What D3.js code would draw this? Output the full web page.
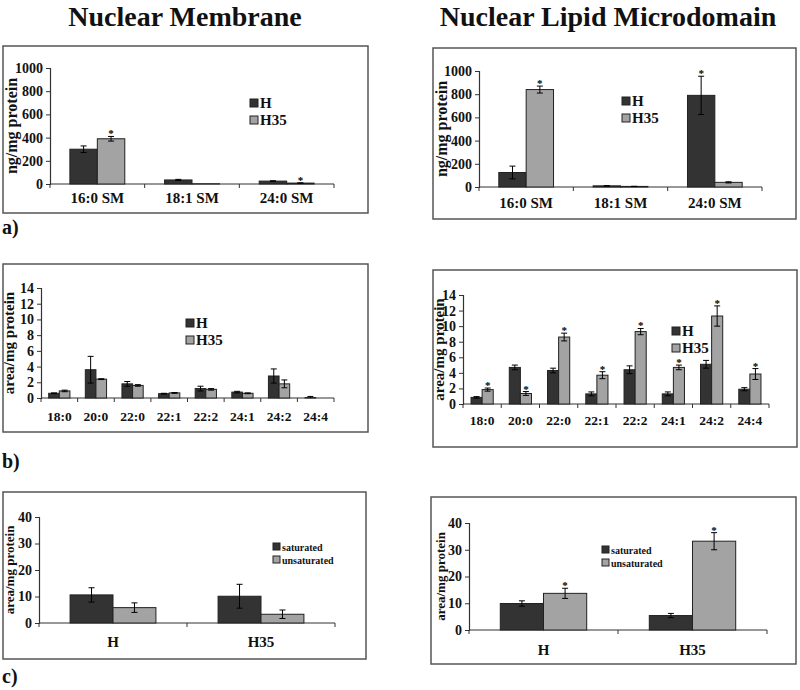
<!DOCTYPE html>
<html><head><meta charset="utf-8">
<script src="https://cdn.jsdelivr.net/npm/d3@7"></script>
<style>body{margin:0;background:#fff}svg{display:block}text{font-family:"Liberation Serif","Times New Roman",serif;font-weight:bold;fill:#111}</style>
</head><body>
<svg id="c" width="800" height="690"></svg>
<script>
// ---- data ----
const smCategories = ["16:0 SM", "18:1 SM", "24:0 SM"];
const faCategories = ["18:0", "20:0", "22:0", "22:1", "22:2", "24:1", "24:2", "24:4"];
const groupCategories = ["H", "H35"];

const seriesHH35 = ["H", "H35"];
const seriesSat = ["saturated", "unsaturated"];

// a) Nuclear membrane SM (ng/mg protein)
const aMemH = [300, 35, 25];
const aMemHErr = [28, 5, 3];
const aMemH35 = [390, 2, 8];
const aMemH35Err = [20, 0, 2];
const aMemStarsH = [false, false, false];
const aMemStarsH35 = [true, false, true];

// a) Nuclear lipid microdomain SM
const aMdH = [125, 10, 790];
const aMdHErr = [55, 2, 165];
const aMdH35 = [840, 5, 40];
const aMdH35Err = [30, 1, 5];
const aMdStarsH = [false, false, true];
const aMdStarsH35 = [true, false, false];

// b) Nuclear membrane fatty acids (area/mg protein)
const bMemH = [0.6, 3.6, 1.8, 0.55, 1.2, 0.75, 2.8, 0.05];
const bMemHErr = [0.05, 1.7, 0.3, 0.05, 0.3, 0.1, 0.9, 0.15];
const bMemH35 = [0.9, 2.4, 1.6, 0.65, 1.1, 0.6, 1.8, 0];
const bMemH35Err = [0.1, 0.05, 0.1, 0.05, 0.1, 0.05, 0.5, 0];

// b) Nuclear lipid microdomain fatty acids
const bMdH = [0.85, 4.7, 4.3, 1.3, 4.4, 1.3, 5.1, 1.9];
const bMdHErr = [0.1, 0.3, 0.3, 0.25, 0.5, 0.25, 0.5, 0.2];
const bMdH35 = [1.85, 1.35, 8.6, 3.7, 9.3, 4.7, 11.3, 3.85];
const bMdH35Err = [0.2, 0.25, 0.5, 0.45, 0.4, 0.3, 1.3, 0.7];
const bMdStarsH35 = [true, true, true, true, true, true, true, true];

// c) saturated / unsaturated
const cMemSat = [10.6, 10.1];
const cMemSatErr = [2.7, 4.5];
const cMemUnsat = [5.8, 3.3];
const cMemUnsatErr = [1.8, 1.6];

const cMdSat = [9.9, 5.4];
const cMdSatErr = [1.0, 0.8];
const cMdUnsat = [13.7, 33.2];
const cMdUnsatErr = [1.9, 3.2];
const cMdStarsUnsat = [true, true];

const yTicksA = [0, 200, 400, 600, 800, 1000];
const yTicksB = [0, 2, 4, 6, 8, 10, 12, 14];
const yTicksC = [0, 10, 20, 30, 40];

// ---- drawing ----
const svg = d3.select("#c");
const DARK = "#333333", LIGHT = "#a3a3a3";
const none = n => new Array(n).fill(false);

svg.append("text").attr("x", 185).attr("y", 26).attr("text-anchor", "middle")
  .style("font-size", "28px").text("Nuclear Membrane");
svg.append("text").attr("x", 608).attr("y", 26).attr("text-anchor", "middle")
  .style("font-size", "28px").text("Nuclear Lipid Microdomain");

[["a)", 234], ["b)", 468], ["c)", 683]].forEach(([t, y]) => {
  svg.append("text").attr("x", 2).attr("y", y).style("font-size", "20px").text(t);
});

function panel(p) {
  const g = svg.append("g");
  g.append("rect").attr("x", p.box[0]).attr("y", p.box[1])
    .attr("width", p.box[2] - p.box[0]).attr("height", p.box[3] - p.box[1])
    .attr("fill", "none").attr("stroke", "#555").attr("stroke-width", 1.5);

  const x = d3.scaleBand().domain(p.cats).range([p.x0, p.x1]);
  const xs = d3.scaleBand().domain(p.series)
    .range([x.bandwidth() * 0.21, x.bandwidth() * 0.79]);
  const y = d3.scaleLinear().domain([0, p.ymax]).range([p.y0, p.yTop]);

  // y axis
  const ya = g.append("g").attr("transform", `translate(${p.x0},0)`)
    .call(d3.axisLeft(y).tickValues(p.yTicks).tickFormat(d3.format("d")).tickSize(4).tickPadding(3));
  ya.select(".domain").attr("stroke", "#333").attr("stroke-width", 1.2);
  ya.selectAll(".tick line").attr("stroke", "#333");
  ya.selectAll("text").style("font-size", p.yFont + "px").attr("fill", "#111")
    .style("font-family", '"Liberation Serif",serif').style("font-weight", "bold");

  // x axis (ticks between categories)
  const xa = g.append("g").attr("transform", `translate(0,${p.y0})`);
  xa.append("line").attr("x1", p.x0).attr("x2", p.x1).attr("y1", 0).attr("y2", 0)
    .attr("stroke", "#333").attr("stroke-width", 1.2);
  const bounds = p.cats.map(c => x(c)).concat([x(p.cats[p.cats.length - 1]) + x.bandwidth()]);
  xa.selectAll(".tk").data(bounds).join("line").attr("x1", d => d).attr("x2", d => d)
    .attr("y1", 0).attr("y2", 4).attr("stroke", "#333");
  xa.selectAll(".lb").data(p.cats).join("text")
    .attr("x", d => x(d) + x.bandwidth() / 2).attr("y", p.xLabelY - p.y0)
    .attr("text-anchor", "middle").style("font-size", p.xFont + "px").text(d => d);

  // y label
  g.append("text").attr("transform", `translate(${p.ylx},${(p.y0 + p.yTop) / 2}) rotate(-90)`)
    .attr("text-anchor", "middle").style("font-size", p.ylFont + "px").text(p.ylabel);

  // bars
  p.series.forEach((s, si) => {
    const vals = p.values[si], errs = p.errors[si], stars = p.stars[si];
    const col = si === 0 ? DARK : LIGHT;
    const data = p.cats.map((c, i) => ({ c, v: vals[i], e: errs[i], st: stars[i] }));
    const bx = d => x(d.c) + xs(s);
    g.selectAll(null).data(data).join("rect")
      .attr("x", bx).attr("width", xs.bandwidth())
      .attr("y", d => y(d.v)).attr("height", d => p.y0 - y(d.v))
      .attr("fill", col).attr("stroke", "#222").attr("stroke-width", 1);
    const cx = d => bx(d) + xs.bandwidth() / 2;
    const eb = data.filter(d => d.e > 0);
    g.selectAll(null).data(eb).join("line")
      .attr("x1", cx).attr("x2", cx).attr("y1", d => y(d.v - d.e < 0 ? 0 : d.v - d.e)).attr("y2", d => y(d.v + d.e))
      .attr("stroke", "#000").attr("stroke-width", 1);
    g.selectAll(null).data(eb).join("line")
      .attr("x1", d => cx(d) - 3).attr("x2", d => cx(d) + 3).attr("y1", d => y(d.v + d.e)).attr("y2", d => y(d.v + d.e))
      .attr("stroke", "#000").attr("stroke-width", 1);
    g.selectAll(null).data(eb.filter(d => d.v - d.e > 0)).join("line")
      .attr("x1", d => cx(d) - 3).attr("x2", d => cx(d) + 3).attr("y1", d => y(d.v - d.e)).attr("y2", d => y(d.v - d.e))
      .attr("stroke", "#000").attr("stroke-width", 1);
    g.selectAll(null).data(data.filter(d => d.st)).join("text")
      .attr("x", cx).attr("y", d => y(d.v + d.e) + 1).attr("text-anchor", "middle")
      .style("font-size", "11px").style("fill", "#000").text("*");
  });

  // legend
  p.series.forEach((s, si) => {
    const ly = p.leg[1] + si * p.legStep;
    g.append("rect").attr("x", p.leg[0]).attr("y", ly - p.legSq).attr("width", p.legSq).attr("height", p.legSq)
      .attr("fill", si === 0 ? DARK : LIGHT).attr("stroke", "#222").attr("stroke-width", 1);
    g.append("text").attr("x", p.leg[0] + p.legSq + 2).attr("y", ly + 1)
      .style("font-size", p.legFont + "px").text(s);
  });
}

panel({ box: [3, 46, 368, 213], x0: 50, x1: 334, yTop: 68, y0: 184, ymax: 1000, yTicks: yTicksA, yFont: 14,
  cats: smCategories, series: seriesHH35, values: [aMemH, aMemH35], errors: [aMemHErr, aMemH35Err],
  stars: [aMemStarsH, aMemStarsH35], xLabelY: 203, xFont: 15, ylabel: "ng/mg protein", ylx: 17, ylFont: 16,
  leg: [250, 107], legStep: 17, legSq: 8, legFont: 15 });

panel({ box: [433, 48, 796, 219], x0: 479, x1: 762, yTop: 71, y0: 187, ymax: 1000, yTicks: yTicksA, yFont: 14,
  cats: smCategories, series: seriesHH35, values: [aMdH, aMdH35], errors: [aMdHErr, aMdH35Err],
  stars: [aMdStarsH, aMdStarsH35], xLabelY: 208, xFont: 15, ylabel: "ng/mg protein", ylx: 447, ylFont: 16,
  leg: [622, 105], legStep: 17, legSq: 8, legFont: 15 });

panel({ box: [3, 264, 368, 432], x0: 41, x1: 334, yTop: 288, y0: 398, ymax: 14, yTicks: yTicksB, yFont: 14,
  cats: faCategories, series: seriesHH35, values: [bMemH, bMemH35], errors: [bMemHErr, bMemH35Err],
  stars: [none(8), none(8)], xLabelY: 421, xFont: 13.5, ylabel: "area/mg protein", ylx: 14, ylFont: 15,
  leg: [186, 327], legStep: 17, legSq: 8, legFont: 15 });

panel({ box: [433, 270, 797, 447], x0: 463, x1: 769, yTop: 295, y0: 404, ymax: 14, yTicks: yTicksB, yFont: 14,
  cats: faCategories, series: seriesHH35, values: [bMdH, bMdH35], errors: [bMdHErr, bMdH35Err],
  stars: [none(8), bMdStarsH35], xLabelY: 425, xFont: 13.5, ylabel: "area/mg protein", ylx: 444, ylFont: 15,
  leg: [672, 335], legStep: 17, legSq: 8, legFont: 15 });

panel({ box: [3, 492, 366, 659], x0: 39, x1: 335, yTop: 517, y0: 623, ymax: 40, yTicks: yTicksC, yFont: 14,
  cats: groupCategories, series: seriesSat, values: [cMemSat, cMemUnsat], errors: [cMemSatErr, cMemUnsatErr],
  stars: [none(2), none(2)], xLabelY: 647, xFont: 15, ylabel: "area/mg protein", ylx: 14, ylFont: 13,
  leg: [273, 550], legStep: 13, legSq: 7, legFont: 10 });

panel({ box: [431, 497, 796, 664], x0: 469, x1: 767, yTop: 523, y0: 630, ymax: 40, yTicks: yTicksC, yFont: 14,
  cats: groupCategories, series: seriesSat, values: [cMdSat, cMdUnsat], errors: [cMdSatErr, cMdUnsatErr],
  stars: [none(2), cMdStarsUnsat], xLabelY: 655, xFont: 15, ylabel: "area/mg protein", ylx: 445, ylFont: 13,
  leg: [602, 553], legStep: 13, legSq: 7, legFont: 10 });
</script>
</body></html>
